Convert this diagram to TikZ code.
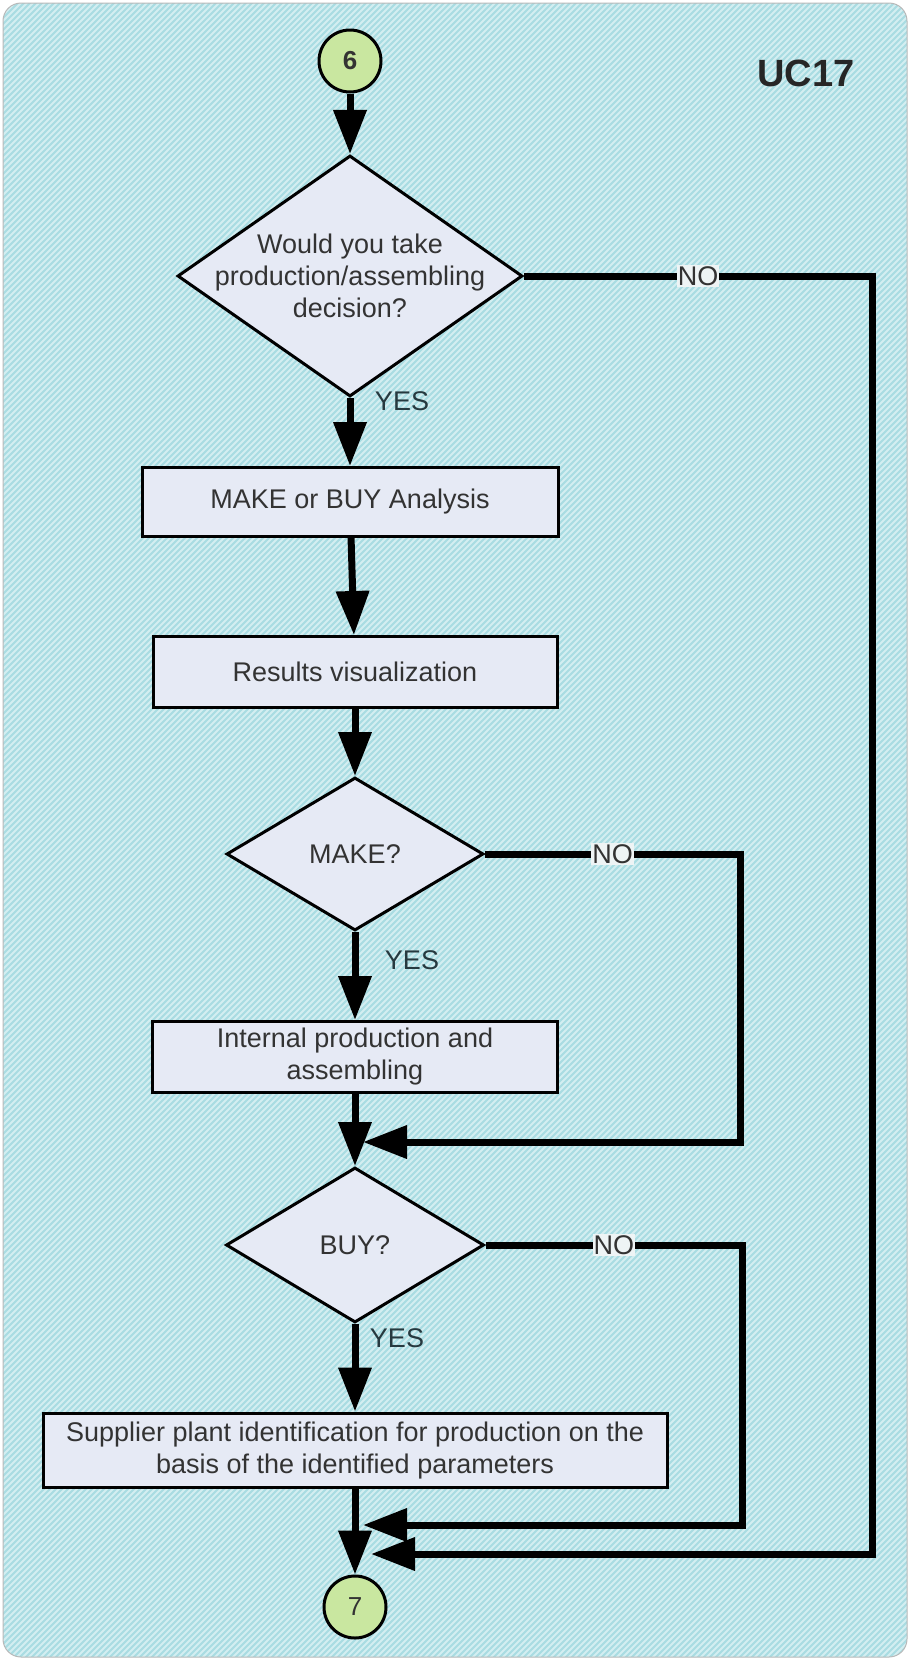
\documentclass[tikz,border=0pt]{standalone}
\usepackage{fontspec}
\setmainfont{Liberation Sans}
\usetikzlibrary{shapes.geometric,arrows.meta}

\definecolor{panel}{HTML}{A9DCE2}
\definecolor{stripe}{HTML}{D3EEF1}
\definecolor{shapefill}{HTML}{E6EAF5}
\definecolor{termfill}{HTML}{C9E7A0}
\definecolor{ink}{HTML}{333333}
\definecolor{labelink}{HTML}{26393F}
\definecolor{tagfill}{HTML}{EEF4F5}

\begin{document}
\begin{tikzpicture}[x=1pt,y=-1pt,
  every node/.style={font=\fontsize{27}{32}\selectfont, text=ink},
  proc/.style={draw=black, line width=3pt, fill=shapefill, rectangle,
    align=center, inner sep=0pt},
  decision/.style={draw=black, line width=3pt, fill=shapefill, diamond,
    inner sep=0pt, align=center},
  terminal/.style={draw=black, line width=3pt, fill=termfill, circle,
    minimum size=62pt, inner sep=0pt},
  flow/.style={line width=7pt, draw=black, -{Triangle[length=44pt,width=32pt]}},
  yeslabel/.style={text=labelink},
  nolabel/.style={fill=tagfill, inner sep=1pt, text=ink}
]

% hatched panel behind the chart
\path[use as bounding box] (0,0) rectangle (910,1660);
\begin{scope}
  \clip[rounded corners=18pt] (3,3) rectangle (907,1657);
  \fill[panel] (0,0) rectangle (910,1660);
  \foreach \k in {0,6,...,2580}
    \draw[stripe, line width=2pt] (\k,0) -- ++(-1670,1670);
\end{scope}
\draw[gray!55, line width=1pt, rounded corners=18pt] (3,3) rectangle (907,1657);

% title
\node[font=\bfseries\fontsize{38}{44}\selectfont, text=black!85] (uc) at (806,73) {UC17};

% flow nodes
\node[terminal, font=\bfseries\fontsize{26}{30}\selectfont] (c6) at (350,61) {6};
\node[decision, minimum width=345pt, minimum height=241pt] (d1) at (350,276) {};
\node[align=center] (d1text) at (d1.center) {Would you take\\production/assembling\\decision?};
\node[proc, minimum width=416pt, minimum height=69pt] (b1) at (350,502) {MAKE or BUY Analysis};
\node[proc, minimum width=404pt, minimum height=71pt] (b2) at (355,672) {Results visualization};
\node[decision, minimum width=257pt, minimum height=153pt] (d2) at (355,854) {MAKE?};
\node[proc, minimum width=405pt, minimum height=71pt] (b3) at (355,1057) {Internal production and\\assembling};
\node[decision, minimum width=258pt, minimum height=155pt] (d3) at (355,1245) {BUY?};
\node[proc, minimum width=624pt, minimum height=74pt] (b4) at (355,1450)
  {Supplier plant identification for production on the\\basis of the identified parameters};
\node[terminal, font=\fontsize{26}{30}\selectfont] (c7) at (355,1607) {7};

% branch labels
\node[yeslabel] (y1) at (402,401) {YES};
\node[yeslabel] (y2) at (412,960) {YES};
\node[yeslabel] (y3) at (397,1338) {YES};

% rails and merge points
\coordinate (r1) at (872,0);
\coordinate (r2) at (740,0);
\coordinate (r3) at (742,0);
\coordinate (j1) at (363,1142);
\coordinate (j2) at (363,1525);
\coordinate (j3) at (371,1554);

% main column
\draw[flow] (c6) -- (d1);
\draw[flow] (d1) -- (b1);
\draw[flow] (b1) -- (b2);
\draw[flow] (b2) -- (d2);
\draw[flow] (d2) -- (b3);
\draw[flow] (b3) -- (d3);
\draw[flow] (d3) -- (b4);
\draw[flow] (b4) -- (c7);

% NO branches
\draw[flow] (d1.east) -- node[nolabel] (n1) {NO} (d1.east -| r1) |- (j3);
\draw[flow] (d2.east) -- node[nolabel] (n2) {NO} (d2.east -| r2) |- (j1);
\draw[flow] (d3.east) -- node[nolabel] (n3) {NO} (d3.east -| r3) |- (j2);

\end{tikzpicture}
\end{document}
